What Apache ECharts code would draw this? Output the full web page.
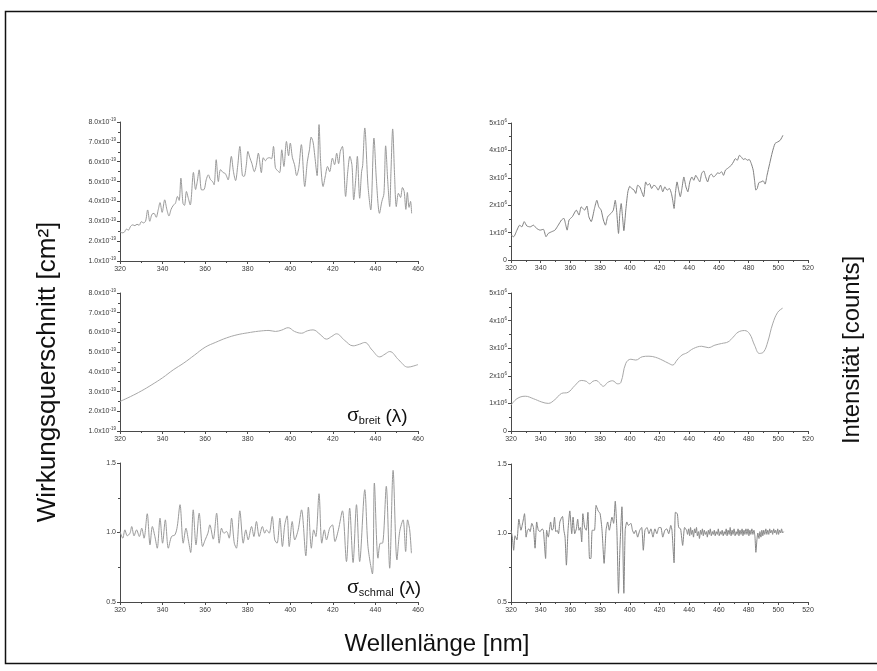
<!DOCTYPE html>
<html><head><meta charset="utf-8">
<script src="https://cdn.jsdelivr.net/npm/echarts@6/dist/echarts.min.js"></script>
<style>html,body{margin:0;padding:0;background:#fff}#c{width:877px;height:671px}</style>
</head><body><div id="c"></div>
<script>
// Top-left: Wirkungsquerschnitt (units of 1e-19 cm²)
var tlNm = [320,321,322,323,324,325,326,327,328,329,330,331,332,333,334,335,336,337,338,338.8,339.8,341,342,343,344,345,346,347,347.8,348.6,349.6,350.3,351.2,352,353,354.5,355.5,356.3,357.2,358.3,359.5,360.5,361.5,362.5,363.5,364.2,365.2,366.2,367.2,368.5,369.5,370.8,372.3,373.3,374.3,375.3,376.3,377.5,378.3,379.3,380.1,381,382,383.1,384,385,386.4,387.3,388.3,389.3,390.3,391.2,392.1,393,394,395,396,397,398.2,399.2,400,401,402,403,404,405.2,406.8,408,409,409.8,410.7,411.5,412.6,413.5,414.3,415.4,416.5,417.5,418.5,419.8,420.8,421.8,422.7,423.5,424.5,426,427,428,429,429.8,430.8,431.5,432.6,433.5,434,435,436.5,437.8,439.3,440.5,441.9,443,444,444.8,445.8,446.7,447.3,448.1,449,449.8,450.8,451.8,452.7,453.5,454.3,455,455.8,456.5,457];
var tlSigma = [2.48,2.42,2.45,2.6,2.56,2.75,2.82,2.78,2.85,2.8,2.98,2.92,3.0,3.57,3.0,3.35,3.4,3.2,3.6,3.94,3.45,4.08,3.6,3.27,3.6,3.8,3.9,4.25,4.05,5.17,3.9,3.8,4.5,4.2,3.82,5.46,4.6,5.0,5.59,4.58,4.6,5.09,5.34,5.1,5.0,4.84,6.1,5.0,5.6,5.45,5.4,5.09,6.27,5.5,5.05,5.8,6.77,5.3,5.26,5.8,6.52,6.2,5.9,5.5,5.8,6.43,5.45,6.2,6.05,6.18,6.2,6.15,6.77,5.7,5.55,5.45,6.6,5.76,7.02,6.3,6.94,6.2,5.85,5.3,5.7,6.86,4.75,6.0,6.6,7.24,6.99,6.3,5.3,7.87,5.9,4.75,5.3,5.76,5.5,6.18,5.85,6.43,5.9,6.52,6.77,4.25,5.5,6.27,5.8,4.08,5.2,6.27,4.16,5.5,5.8,7.7,4.8,3.57,7.19,5.0,3.4,3.99,4.4,6.8,5.0,3.74,5.5,7.65,5.3,3.74,4.41,4.2,4.7,4.5,3.6,4.45,3.7,4.0,3.4];

// Middle-left: sigma breit (units of 1e-19 cm²)
var mlNm = [320,325,330,335,340,345,350,355,360,365,370,375,380,385,390,393,396,399,402,405.3,408,410.7,414,417,419.5,421.7,425.5,429.5,432.5,435,438.5,442,444.5,446.7,451,455.3,458,460];
var mlSigma = [2.5,2.75,3.03,3.35,3.7,4.1,4.45,4.85,5.25,5.5,5.72,5.88,5.98,6.06,6.1,6.05,6.12,6.24,6.05,5.96,6.08,6.13,5.9,5.66,5.8,5.93,5.6,5.32,5.4,5.49,5.1,4.76,4.9,5.03,4.6,4.24,4.3,4.37];

// Bottom-left: sigma schmal (ratio)
var blNm = [320.0,321.3,322.3,323.4,324.7,325.5,326.6,327.8,329.1,330.2,331.3,332.8,334.1,335.2,336.4,337.5,338.8,340.0,341.3,342.7,344.2,345.8,346.9,348.2,349.7,351.0,352.1,353.2,354.4,355.7,357.2,358.8,360.0,361.3,362.2,363.8,365.4,366.6,367.7,368.8,370.1,371.3,372.4,373.7,374.7,376.3,377.9,379.1,380.2,381.8,382.9,384.1,385.4,386.9,388.0,388.8,390.1,391.5,392.7,393.8,395.1,396.3,397.4,398.5,399.5,400.9,402.1,403.7,405.3,407.3,408.5,409.9,411.0,412.0,413.5,414.8,416.0,417.0,418.5,419.8,421.0,422.6,424.5,426.4,427.9,429.5,431.1,432.6,435.0,436.5,438.6,439.5,441.2,442.3,443.3,445.1,446.7,448.3,450.1,451.4,453.0,454.2,455.1,456.1,456.9];
var blRatio = [1.007,0.959,1.019,0.976,0.995,1.043,0.976,1.019,0.971,1.031,0.959,1.135,0.911,1.043,0.971,0.887,1.103,0.923,1.091,0.887,0.971,0.983,1.043,1.2,0.923,1.031,0.947,0.856,1.163,0.911,1.139,0.899,0.947,0.995,1.055,0.952,1.139,0.923,1.031,0.995,1.007,0.959,1.103,0.923,0.887,1.156,0.923,1.019,0.947,1.043,0.971,1.079,0.971,1.043,0.995,1.019,0.995,1.115,0.947,0.923,1.103,0.899,1.055,1.12,0.899,1.079,0.947,1.019,1.163,0.832,1.183,0.887,1.019,0.971,1.279,0.923,1.019,0.947,1.031,1.055,0.935,1.019,1.156,0.791,1.175,0.784,1.2,0.791,1.308,0.899,0.702,1.356,0.815,0.923,0.923,1.332,0.743,1.447,0.803,1.007,1.091,0.863,1.091,1.019,0.851];

// Top-right: Intensität (units of 1e6 counts)
var trNm = [320.0,321.8,324.0,325.8,327.3,328.9,330.7,332.9,335.1,337.3,339.6,341.8,343.6,345.1,347.3,349.6,351.8,354.0,355.6,356.9,357.8,359.1,361.3,364.0,365.8,367.3,369.6,371.1,372.4,374.0,376.2,377.8,379.1,380.7,382.2,383.6,385.1,387.3,388.9,390.2,391.1,392.4,393.3,394.2,395.1,396.0,397.3,398.7,400.0,401.3,402.9,404.0,405.3,406.7,408.0,409.3,410.7,412.0,413.3,414.7,416.2,417.8,419.1,420.7,422.2,423.6,425.1,426.7,428.0,428.9,429.8,430.7,431.8,432.9,434.0,435.1,436.4,437.8,439.1,440.4,441.8,443.1,444.4,445.8,447.1,448.4,449.8,451.1,452.4,453.8,455.1,456.4,457.8,459.1,460.4,461.8,463.1,464.4,465.8,467.1,468.4,469.8,471.1,472.4,473.8,475.1,476.4,477.8,479.1,480.4,481.8,483.1,484.0,484.9,485.8,486.9,488.4,489.8,491.1,492.4,494.2,496.0,497.8,499.6,501.3,503.1];
var trCounts = [0.91,0.85,1.09,1.27,1.21,1.40,1.24,1.21,1.27,1.15,1.09,1.12,0.85,0.97,1.03,1.09,1.27,1.46,1.52,1.27,1.09,1.46,1.58,1.82,1.64,1.94,1.82,1.97,1.58,1.40,1.88,2.18,1.94,1.82,1.46,1.27,1.58,1.70,1.82,2.18,1.82,0.97,1.70,2.06,1.58,1.07,1.82,2.49,2.69,2.61,2.55,2.43,2.73,2.67,2.49,2.31,2.85,2.73,2.79,2.61,2.73,2.67,2.55,2.73,2.49,2.67,2.55,2.61,2.43,2.18,1.88,2.43,2.85,2.55,2.31,2.61,3.03,2.67,2.49,2.85,3.03,2.91,3.09,2.97,2.85,3.16,3.25,3.03,2.85,3.09,3.13,3.03,3.09,3.18,3.16,3.22,3.09,3.28,3.34,3.40,3.46,3.58,3.70,3.64,3.82,3.76,3.67,3.70,3.64,3.67,3.52,3.28,2.91,2.55,2.61,2.82,2.85,2.89,2.77,3.09,3.52,3.94,4.25,4.31,4.37,4.55];

// Middle-right: smoothed intensity (units of 1e6 counts)
var mrNm = [320,324,329.6,335.1,340.7,345.1,349.6,354,358.4,362.9,367.3,370.7,372.9,375.1,377.3,379.6,382.2,385.1,388.4,391.8,394,397.3,400.7,404,408.4,412.9,417.3,421.8,426.2,428.9,431.8,435.1,438.4,442.9,448.4,452.9,457.3,461.8,466.2,469.6,472.9,477.3,480.7,484,487.3,490.2,492.9,496.2,499.6,502.9];
var mrCounts = [0.93,1.17,1.26,1.17,1.05,1.0,1.14,1.36,1.40,1.64,1.83,1.80,1.71,1.80,1.83,1.74,1.62,1.76,1.82,1.71,1.76,2.45,2.60,2.57,2.69,2.71,2.67,2.57,2.45,2.39,2.57,2.75,2.83,2.99,3.07,3.02,3.11,3.17,3.23,3.40,3.58,3.64,3.52,3.11,2.81,2.87,3.23,3.88,4.30,4.45];

// Bottom-right: narrow-band ratio
var brNm = [320.0,320.9,321.8,322.7,324.0,325.3,326.7,328.0,329.1,330.2,331.1,332.0,332.9,334.0,335.1,336.2,337.3,338.4,339.6,340.9,341.8,343.3,344.0,345.1,346.7,347.6,348.4,349.3,350.2,351.1,352.0,352.9,354.0,354.7,355.6,356.4,357.3,358.4,359.6,360.9,361.8,362.9,364.0,364.9,365.8,366.7,367.6,368.4,369.6,370.7,371.8,372.9,373.8,374.7,376.2,377.3,378.7,380.0,381.3,382.7,384.0,385.1,386.2,388.0,389.1,390.2,391.3,392.4,393.3,394.7,396.0,396.9,398.0,399.1,400.7,401.8,402.9,404.0,405.3,406.7,408.0,409.1,410.2,411.6,412.9,414.2,415.6,416.9,418.2,419.6,420.9,422.2,423.6,424.9,426.2,427.6,428.4,429.8,430.7,432.0,432.9,434.2,435.6,436.9,438.2,438.9,439.6,440.3,440.9,441.6,442.2,442.9,443.6,444.2,444.9,445.5,446.2,446.9,447.6,448.2,448.9,449.5,450.2,450.9,451.6,452.2,452.9,453.5,454.2,454.9,455.6,456.2,456.9,457.5,458.2,458.9,459.6,460.2,460.9,461.5,462.2,462.9,463.6,464.2,464.9,465.5,466.2,466.9,467.6,468.2,468.9,469.5,470.2,470.9,471.6,472.2,472.9,473.5,474.2,474.9,475.6,476.2,476.9,477.5,478.2,478.9,479.6,480.2,480.9,481.5,482.2,482.9,483.6,484.3,484.9,485.6,486.2,487.0,487.6,488.3,488.9,489.6,490.2,490.9,491.6,492.3,492.9,493.6,494.2,494.9,495.6,496.2,496.9,497.6,498.2,498.9,499.6,500.2,500.9,501.6,502.2,502.9,503.6];
var brRatio = [1.02,0.97,0.875,0.98,0.95,1.10,1.02,1.08,1.14,0.97,1.02,1.03,1.01,1.07,1.04,0.89,1.08,1.02,1.01,1.03,1.02,0.815,1.02,0.97,1.08,1.02,1.03,1.115,1.01,1.02,0.995,1.08,1.11,1.12,1.02,0.97,0.767,1.02,1.16,0.995,1.115,0.995,1.03,1.10,1.02,1.04,0.935,1.14,1.04,1.02,1.15,0.815,0.815,1.02,1.02,1.20,1.16,1.14,1.02,0.78,1.02,1.08,1.02,1.115,1.07,1.23,1.02,0.563,0.875,1.19,0.563,1.02,1.08,1.055,1.07,1.02,0.995,1.02,0.97,1.02,1.04,0.875,1.02,1.04,0.995,1.03,0.97,1.03,0.995,1.04,1.04,0.97,1.02,1.03,0.995,1.055,1.02,0.784,1.15,1.14,1.04,1.03,0.91,1.04,1.02,0.99,1.03,0.98,1.04,0.99,1.02,0.97,1.03,1.0,1.04,0.98,1.01,0.96,1.02,0.99,1.03,0.98,1.02,0.99,1.01,0.97,1.02,0.99,1.03,0.98,1.01,0.99,1.02,0.98,1.01,0.99,1.03,0.98,1.01,0.99,1.02,0.98,1.01,0.99,1.03,0.98,1.02,0.99,1.04,0.98,1.02,0.99,1.03,0.98,1.01,0.99,1.03,0.98,1.02,0.99,1.03,0.98,1.02,0.99,1.03,0.99,1.03,0.98,1.02,0.99,1.03,0.99,1.02,0.97,0.86,0.95,1.0,0.96,1.01,0.97,1.02,0.98,1.02,0.99,1.03,0.99,1.02,0.99,1.03,1.0,1.02,0.99,1.03,1.0,1.02,0.99,1.03,0.99,1.02,1.0,1.03,1.0,1.01];

// Axis ranges / tick settings
var leftXRange = [320, 460], rightXRange = [320, 520], xStep = 20;
var sigmaRange = [1, 8], sigmaStep = 1;     // ×1e-19 cm²
var countRange = [0, 5], countStep = 1;      // ×1e6 counts
var ratioRange = [0.5, 1.5], ratioStep = 0.5;

function zip(a, b) { return a.map(function (x, i) { return [x, b[i]]; }); }

var FONT = '"Liberation Sans", Arial, Helvetica, sans-serif';
var axisCol = '#4a4a4a';
var labCol = '#3a3a3a';
var supRich = {
  m: { fontSize: 7, color: labCol, fontFamily: FONT, lineHeight: 9 },
  e: { fontSize: 4.5, color: labCol, fontFamily: FONT, verticalAlign: 'top', lineHeight: 6 }
};

var grids = [
  { left: 120, top: 122, width: 298, height: 139 },
  { left: 120, top: 293, width: 298, height: 138 },
  { left: 120, top: 463, width: 298, height: 139 },
  { left: 511, top: 123, width: 297, height: 137 },
  { left: 511, top: 293, width: 297, height: 138 },
  { left: 511, top: 464, width: 297, height: 138 }
];

function xAx(i, range) {
  return {
    gridIndex: i, type: 'value', min: range[0], max: range[1], interval: xStep,
    axisLine: { lineStyle: { color: axisCol, width: 1 } },
    axisTick: { length: 3, lineStyle: { color: axisCol } },
    minorTick: { show: true, splitNumber: 2, length: 2, lineStyle: { color: axisCol } },
    splitLine: { show: false },
    axisLabel: { fontSize: 7, color: labCol, fontFamily: FONT, margin: 5 }
  };
}
function yAx(i, range, step, fmt) {
  return {
    gridIndex: i, type: 'value', min: range[0], max: range[1], interval: step,
    axisLine: { show: true, lineStyle: { color: axisCol, width: 1 } },
    axisTick: { show: true, length: 3, lineStyle: { color: axisCol } },
    minorTick: { show: true, splitNumber: 2, length: 2, lineStyle: { color: axisCol } },
    splitLine: { show: false },
    axisLabel: { fontSize: 7, color: labCol, fontFamily: FONT, margin: 4, formatter: fmt, rich: supRich }
  };
}
var sigmaFmt = function (v) { return '{m|' + v.toFixed(1) + 'x10}{e|-19}'; };
var countFmt = function (v) { return v === 0 ? '{m|0}' : '{m|' + v + 'x10}{e|6}'; };
var ratioFmt = function (v) { return '{m|' + v.toFixed(1) + '}'; };

function line(i, data, color, sm) {
  return {
    type: 'line', xAxisIndex: i, yAxisIndex: i, data: data, showSymbol: false,
    smooth: sm,
    lineStyle: { color: color, width: 1 }, animation: false, silent: true
  };
}

var chart = echarts.init(document.getElementById('c'), null, { renderer: 'canvas' });
chart.setOption({
  backgroundColor: '#fff',
  animation: false,
  grid: grids,
  xAxis: [xAx(0, leftXRange), xAx(1, leftXRange), xAx(2, leftXRange), xAx(3, rightXRange), xAx(4, rightXRange), xAx(5, rightXRange)],
  yAxis: [yAx(0, sigmaRange, sigmaStep, sigmaFmt), yAx(1, sigmaRange, sigmaStep, sigmaFmt), yAx(2, ratioRange, ratioStep, ratioFmt),
          yAx(3, countRange, countStep, countFmt), yAx(4, countRange, countStep, countFmt), yAx(5, ratioRange, ratioStep, ratioFmt)],
  series: [
    line(0, zip(tlNm, tlSigma), '#9a9a9a', 0.3),
    line(1, zip(mlNm, mlSigma), '#a8a8a8', 0.4),
    line(2, zip(blNm, blRatio), '#9a9a9a', 0.3),
    line(3, zip(trNm, trCounts), '#808080', 0.2),
    line(4, zip(mrNm, mrCounts), '#a8a8a8', 0.4),
    line(5, zip(brNm, brRatio), '#858585', 0.2)
  ],
  graphic: [
    { type: 'rect', shape: { x: 5.5, y: 11.5, width: 880, height: 652 }, style: { fill: null, stroke: '#111', lineWidth: 1.5 }, silent: true },
    { type: 'text', x: 48, y: 372, rotation: Math.PI / 2, style: { text: 'Wirkungsquerschnitt [cm²]', font: '26px ' + FONT, fill: '#111', textAlign: 'center', textVerticalAlign: 'middle' } },
    { type: 'text', x: 852, y: 350, rotation: Math.PI / 2, style: { text: 'Intensität [counts]', font: '24px ' + FONT, fill: '#111', textAlign: 'center', textVerticalAlign: 'middle' } },
    { type: 'text', x: 437, y: 644, style: { text: 'Wellenlänge [nm]', font: '24px ' + FONT, fill: '#111', textAlign: 'center', textVerticalAlign: 'middle' } },
    { type: 'text', x: 347, y: 414, style: {
        text: '{s|σ}{b|breit}{p| (λ)}', textAlign: 'left', textVerticalAlign: 'middle',
        rich: {
          s: { fontFamily: '"Liberation Serif", "DejaVu Serif", serif', fontSize: 22, fill: '#111', lineHeight: 24, verticalAlign: 'bottom' },
          b: { fontFamily: FONT, fontSize: 11, fill: '#111', lineHeight: 24, verticalAlign: 'bottom' },
          p: { fontFamily: FONT, fontSize: 19, fill: '#111', lineHeight: 24, verticalAlign: 'bottom' }
        } } },
    { type: 'text', x: 347, y: 586, style: {
        text: '{s|σ}{b|schmal}{p| (λ)}', textAlign: 'left', textVerticalAlign: 'middle',
        rich: {
          s: { fontFamily: '"Liberation Serif", "DejaVu Serif", serif', fontSize: 22, fill: '#111', lineHeight: 24, verticalAlign: 'bottom' },
          b: { fontFamily: FONT, fontSize: 11, fill: '#111', lineHeight: 24, verticalAlign: 'bottom' },
          p: { fontFamily: FONT, fontSize: 19, fill: '#111', lineHeight: 24, verticalAlign: 'bottom' }
        } } }
  ]
});
</script>
</body></html>
